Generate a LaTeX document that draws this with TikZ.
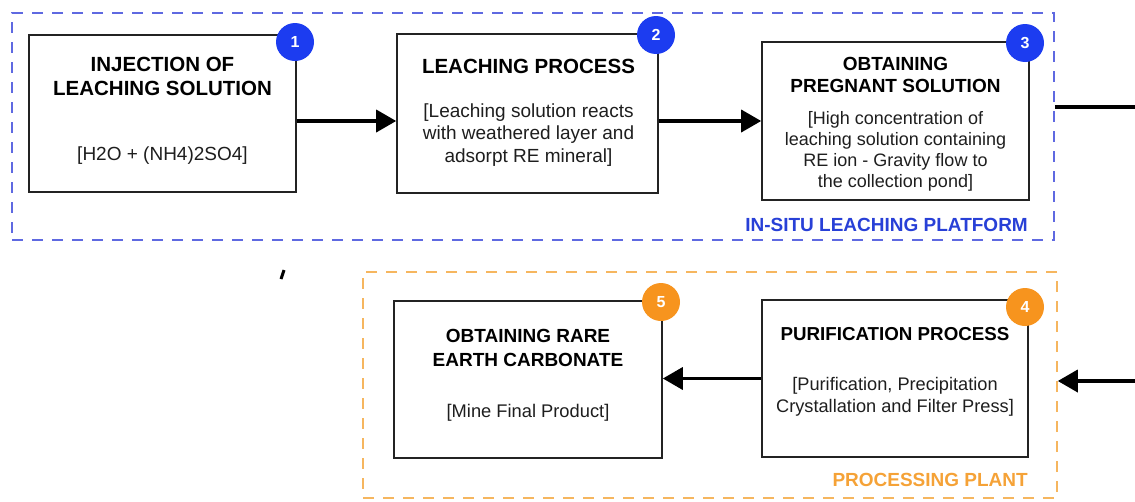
\documentclass[tikz,border=0pt]{standalone}
\usepackage{fontspec}
\setmainfont{Liberation Sans}
\usetikzlibrary{arrows.meta}
\definecolor{bluecirc}{RGB}{28,60,240}
\definecolor{blueframe}{RGB}{95,105,225}
\definecolor{bluelabel}{RGB}{40,64,215}
\definecolor{orangecirc}{RGB}{247,148,30}
\definecolor{orangeframe}{RGB}{246,182,95}
\definecolor{orangelabel}{RGB}{245,162,55}
\definecolor{boxline}{RGB}{35,35,35}
\definecolor{bodytext}{RGB}{30,30,30}
\begin{document}
\begin{tikzpicture}[x=1pt,y=-1pt,
  stepbox/.style={draw=boxline, line width=1.6pt, fill=white, inner sep=0},
  framebox/.style={line width=1.5pt, dash pattern=on 11pt off 9pt, inner sep=0},
  badge/.style={circle, inner sep=0, minimum size=38pt, text=white,
    font=\fontsize{16}{18}\selectfont\bfseries},
  ttl/.style={anchor=north, align=center, inner sep=0, text=black},
  bdy/.style={anchor=north, align=center, inner sep=0, text=bodytext},
  arr/.style={line width=3.6pt, -{Triangle[length=20pt,width=22pt]}},
  lbl/.style={anchor=base east, inner sep=0, font=\fontsize{19}{22}\selectfont\bfseries}
]
\useasboundingbox (0,0) rectangle (1135,501);

% frames
\node[framebox, draw=blueframe, minimum width=1042pt, minimum height=227pt] (plat) at (533,126.5) {};
\node[framebox, draw=orangeframe, minimum width=694pt, minimum height=226pt] (plant) at (710,385) {};
\node[lbl, text=bluelabel] (platlbl) at (1028,231) {IN-SITU LEACHING PLATFORM};
\node[lbl, text=orangelabel] (plantlbl) at (1028,486) {PROCESSING PLANT};

% boxes
\node[stepbox, minimum width=267pt, minimum height=157pt] (b1) at (162.5,113.5) {};
\node[stepbox, minimum width=261pt, minimum height=159pt] (b2) at (527.5,113.5) {};
\node[stepbox, minimum width=267pt, minimum height=158pt] (b3) at (895.5,121) {};
\node[stepbox, minimum width=266pt, minimum height=157pt] (b4) at (895,378.5) {};
\node[stepbox, minimum width=268pt, minimum height=157pt] (b5) at (528,379.5) {};

% texts
\node[ttl, font=\fontsize{20.5}{24}\selectfont\bfseries] (t1) at (162.5,57.2) {INJECTION OF\\LEACHING SOLUTION};
\node[bdy, font=\fontsize{19}{22.5}\selectfont] (s1) at (162.5,146.1) {[H2O + (NH4)2SO4]};

\node[ttl, font=\fontsize{20.5}{24}\selectfont\bfseries] (t2) at (528.5,59.2) {LEACHING PROCESS};
\node[bdy, font=\fontsize{19}{22.5}\selectfont] (s2) at (528.5,103.1) {[Leaching solution reacts\\with weathered layer and\\adsorpt RE mineral]};

\node[ttl, font=\fontsize{19}{22}\selectfont\bfseries] (t3) at (895.5,57.3) {OBTAINING\\PREGNANT SOLUTION};
\node[bdy, font=\fontsize{18}{21}\selectfont] (s3) at (895.5,110.9) {[High concentration of\\leaching solution containing\\RE ion - Gravity flow to\\the collection pond]};

\node[ttl, font=\fontsize{18.75}{22}\selectfont\bfseries] (t4) at (895,327.5) {PURIFICATION PROCESS};
\node[bdy, font=\fontsize{18.2}{22}\selectfont] (s4) at (895,376.7) {[Purification, Precipitation\\Crystallation and Filter Press]};

\node[ttl, font=\fontsize{19}{24}\selectfont\bfseries] (t5) at (528,329.3) {OBTAINING RARE\\EARTH CARBONATE};
\node[bdy, font=\fontsize{18.3}{22}\selectfont] (s5) at (528,403.6) {[Mine Final Product]};

% badges
\node[badge, fill=bluecirc] (c1) at (295,42) {1};
\node[badge, fill=bluecirc] (c2) at (656,35) {2};
\node[badge, fill=bluecirc] (c3) at (1025,43) {3};
\node[badge, fill=orangecirc] (c4) at (1025,307) {4};
\node[badge, fill=orangecirc] (c5) at (661,302) {5};

% connectors
\draw[arr] (b1.east |- b3.west) -- (b2.west |- b3.west);
\draw[arr] (b2.east |- b3.west) -- (b3.west);
\coordinate (exitTop) at (1135,107);
\draw[line width=3.6pt] (plat.east |- exitTop) -- (exitTop);
\coordinate (entryBot) at (1135,381);
\draw[arr] (entryBot) -- (plant.east |- entryBot);
\draw[arr] (b4.west) -- (b5.east |- b4.west);

% stray mark
\draw[line width=3pt] (281,279) -- (284,270);
\end{tikzpicture}
\end{document}
